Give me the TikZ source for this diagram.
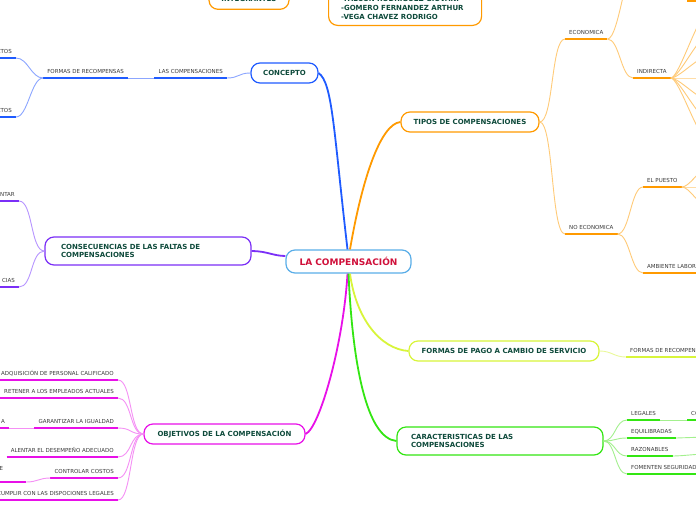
\documentclass[tikz,border=0pt]{standalone}
\usepackage{fontspec}
\setmainfont{DejaVu Sans}
\usepackage{xcolor}
\usetikzlibrary{positioning,calc}

\definecolor{rootline}{HTML}{5AAEE8}
\definecolor{roottext}{HTML}{D0103A}
\definecolor{topictext}{HTML}{0E4A3B}
\definecolor{leaftext}{HTML}{3A3A3A}
\definecolor{blueA}{HTML}{1F5BFF}
\definecolor{blueB}{HTML}{8CA6FF}
\definecolor{orangeA}{HTML}{FF9A00}
\definecolor{orangeB}{HTML}{FFCB78}
\definecolor{purpleA}{HTML}{7B2FF7}
\definecolor{purpleB}{HTML}{B795FF}
\definecolor{pinkA}{HTML}{E810E8}
\definecolor{pinkB}{HTML}{F590F5}
\definecolor{limeA}{HTML}{D8F53A}
\definecolor{limeB}{HTML}{EAF99A}
\definecolor{greenA}{HTML}{33E612}
\definecolor{greenB}{HTML}{A3F08E}

\tikzset{
  root/.style={draw=rootline, line width=1.2pt, fill=white, rounded corners=9pt,
    minimum width=125pt, minimum height=23pt, text=roottext,
    font=\fontsize{9}{11}\selectfont\bfseries},
  topic/.style={draw=#1, line width=1.2pt, fill=white, rounded corners=9pt,
    minimum height=20pt, text=topictext, font=\fontsize{7}{8.7}\selectfont\bfseries},
  leaf/.style={inner xsep=4pt, inner ysep=3.5pt, text height=4pt, text depth=0.5pt,
    text=leaftext, font=\fontsize{5.5}{6.5}\selectfont},
  trunk/.style={draw=#1, line width=1.8pt},
  twig/.style={draw=#1, line width=0.9pt},
  uline/.style={draw=#1, line width=2.2pt},
}

\begin{document}
\begin{tikzpicture}[x=1pt,y=-1pt]
\useasboundingbox (0,0) rectangle (696,520);
\clip (0,0) rectangle (696,520);
\fill[white] (0,0) rectangle (696,520);

% topics
\node[root] (root) at (348.5,261.5) {LA COMPENSACIÓN};
\node[topic=blueA, minimum width=67pt] (concepto) at (284.5,73) {CONCEPTO};
\node[topic=orangeA, minimum width=138pt] (tipos) at (470,122) {TIPOS DE COMPENSACIONES};
\node[topic=purpleA, minimum height=28pt, text width=174pt, inner xsep=16pt, align=left] (conse) at (148,251) {CONSECUENCIAS DE LAS FALTAS DE\\COMPENSACIONES};
\node[topic=pinkA, minimum width=161pt] (objet) at (224.5,434) {OBJETIVOS DE LA COMPENSACIÓN};
\node[topic=limeA, minimum width=190pt] (pago) at (504,351) {FORMAS DE PAGO A CAMBIO DE SERVICIO};
\node[topic=greenA, minimum height=28pt, text width=178pt, inner xsep=14pt, align=left] (carac) at (500,441) {CARACTERISTICAS DE LAS\\COMPENSACIONES};
\node[topic=orangeA, minimum width=80pt] (integ) at (249,-0.7) {INTEGRANTES};
\node[topic=orangeA, anchor=south west, inner xsep=12.5pt, inner ysep=5.5pt, font=\fontsize{7}{9.3}\selectfont\bfseries] (miembros) at (328,26)
  {\parbox[c][45pt][b]{128pt}{\raggedright -FALCON RODRIGUEZ GIOVANI\\-GOMERO FERNANDEZ ARTHUR\\-VEGA CHAVEZ RODRIGO}};

% leaves
\node[leaf, anchor=south east] (lascomp) at (227,78) {LAS COMPENSACIONES};
\node[leaf, anchor=south east] (formrec) at (128,78) {FORMAS DE RECOMPENSAS};
\node[leaf, anchor=south east] (ctosA) at (16,58) {CTOS};
\node[leaf, anchor=south east] (ctosB) at (16,117) {CTOS};
\node[leaf, anchor=south east] (ntar) at (19,201) {NTAR};
\node[leaf, anchor=south east] (cias) at (19,287) {CIAS};
\node[leaf, anchor=south east] (adqui) at (118,380) {ADQUISICIÓN DE PERSONAL CALIFICADO};
\node[leaf, anchor=south east] (retener) at (118,398) {RETENER A LOS EMPLEADOS ACTUALES};
\node[leaf, anchor=south east] (garant) at (118,428) {GARANTIZAR LA IGUALDAD};
\node[leaf, anchor=south east] (garantA) at (9,428) {A};
\node[leaf, anchor=south east] (alentar) at (118,457) {ALENTAR EL DESEMPEÑO ADECUADO};
\node[leaf, anchor=south east] (control) at (118,478) {CONTROLAR COSTOS};
\node[leaf, anchor=south east, minimum width=49pt, text depth=7.5pt] (controlE) at (26,482) {E};
\node[leaf, anchor=south east] (cumplir) at (118,500) {CUMPLIR CON LAS DISPOCIONES LEGALES};
\node[leaf, anchor=south west] (econ) at (565,39) {ECONOMICA};
\node[leaf, anchor=south west] (indir) at (633,78) {INDIRECTA};
\node[leaf, anchor=south west] (noecon) at (565,234) {NO ECONOMICA};
\node[leaf, anchor=south west] (puesto) at (643,187) {EL PUESTO};
\node[leaf, anchor=south west] (ambiente) at (643,273) {AMBIENTE LABORAL};
\node[leaf, anchor=south west] (formrecB) at (626,357) {FORMAS DE RECOMPENSAS};
\node[leaf, anchor=south west] (legales) at (627,420) {LEGALES};
\node[leaf, anchor=south west] (legalesB) at (687,420) {CO};
\node[leaf, anchor=south west] (equil) at (627,438) {EQUILIBRADAS};
\node[leaf, anchor=south west] (razon) at (627,456) {RAZONABLES};
\node[leaf, anchor=south west] (foment) at (627,474) {FOMENTEN SEGURIDAD};

% loose ends past the border
\coordinate (econUp) at (640,-45);
\coordinate (topA) at (687,1);
\coordinate (topB) at (700,1);
\coordinate (equilR) at (706,437);
\coordinate (razonR) at (706,454);

% underlines
\foreach \n in {lascomp,formrec,ctosA,ctosB} \draw[uline=blueA] (\n.south west) -- (\n.south east);
\foreach \n in {ntar,cias} \draw[uline=purpleA] (\n.south west) -- (\n.south east);
\foreach \n in {adqui,retener,garant,garantA,alentar,control,controlE,cumplir} \draw[uline=pinkA] (\n.south west) -- (\n.south east);
\foreach \n in {econ,indir,noecon,puesto,ambiente} \draw[uline=orangeA] (\n.south west) -- (\n.south east);
\draw[uline=orangeA] (topA) -- (topB);
\draw[uline=limeA] (formrecB.south west) -- (formrecB.south east);
\foreach \n in {legales,legalesB,equil,razon,foment} \draw[uline=greenA] (\n.south west) -- (\n.south east);

% main branches
\draw[trunk=blueA] (concepto.east) .. controls +(14,10) and +(-14,-120) .. ([xshift=-1pt]root.north);
\draw[trunk=orangeA] ([xshift=1.5pt]root.north) .. controls +(12,-70) and +(-20,2) .. (tipos.west);
\draw[trunk=purpleA] (conse.east) .. controls +(15,0) and +(-12,0) .. (root.175);
\draw[trunk=pinkA] (objet.east) .. controls +(14,-6) and +(-4,70) .. ([xshift=-1pt]root.south);
\draw[trunk=limeA] ([xshift=1.5pt]root.south) .. controls +(6,45) and +(-28,-2) .. (pago.west);
\draw[trunk=greenA] (root.south) .. controls +(4,90) and +(-30,-3) .. (carac.west);
\draw[trunk=orangeA, line width=1.2pt] (integ.east) .. controls +(12,0) and +(-12,0) .. (miembros.west);

% concepto
\draw[twig=blueB] (concepto.west) .. controls +(-12,0) and +(12,0) .. (lascomp.south east);
\draw[twig=blueB] (lascomp.south west) -- (formrec.south east);
\foreach \n in {ctosA,ctosB}
  \draw[twig=blueB] (formrec.south west) .. controls +(-12,0) and +(12,0) .. (\n.south east);

% consecuencias
\foreach \n in {ntar,cias}
  \draw[twig=purpleB] (conse.west) .. controls +(-14,0) and +(14,0) .. (\n.south east);

% objetivos
\foreach \n in {adqui,retener,garant,alentar,control,cumplir}
  \draw[twig=pinkB] (objet.west) .. controls +(-14,0) and +(14,0) .. (\n.south east);
\draw[twig=pinkB] (garant.south west) -- (garantA.south east);
\draw[twig=pinkB] (controlE.south east) .. controls +(12,0) and +(-12,0) .. (control.south west);

% tipos
\foreach \n in {econ,noecon}
  \draw[twig=orangeB] (tipos.east) .. controls +(14,0) and +(-14,0) .. (\n.south west);
\draw[twig=orangeB] (econ.south east) .. controls +(12,0) and +(-14,0) .. (econUp);
\draw[twig=orangeB] (econ.south east) .. controls +(12,0) and +(-12,0) .. (indir.south west);
\foreach \y [count=\i] in {15,37,57,78,99,118,138} {
  \coordinate (indir\i) at (706,\y);
  \draw[twig=orangeB] (indir.south east) .. controls +(8,0) and +(-8,0) .. (indir\i);
}
\foreach \n in {puesto,ambiente}
  \draw[twig=orangeB] (noecon.south east) .. controls +(12,0) and +(-12,0) .. (\n.south west);
\foreach \y [count=\i] in {170,187,205} {
  \coordinate (puesto\i) at (706,\y);
  \draw[twig=orangeB] (puesto.south east) .. controls +(8,0) and +(-8,0) .. (puesto\i);
}

% formas de pago
\draw[twig=limeB] (pago.east) .. controls +(12,0) and +(-12,0) .. (formrecB.south west);

% caracteristicas
\foreach \n in {legales,equil,razon,foment}
  \draw[twig=greenB] (carac.east) .. controls +(12,0) and +(-12,0) .. (\n.south west);
\draw[twig=greenB] (legales.south east) -- (legalesB.south west);
\draw[twig=greenB] (equil.south east) -- (equilR);
\draw[twig=greenB] (razon.south east) .. controls +(10,0) and +(-10,0) .. (razonR);
\end{tikzpicture}
\end{document}
